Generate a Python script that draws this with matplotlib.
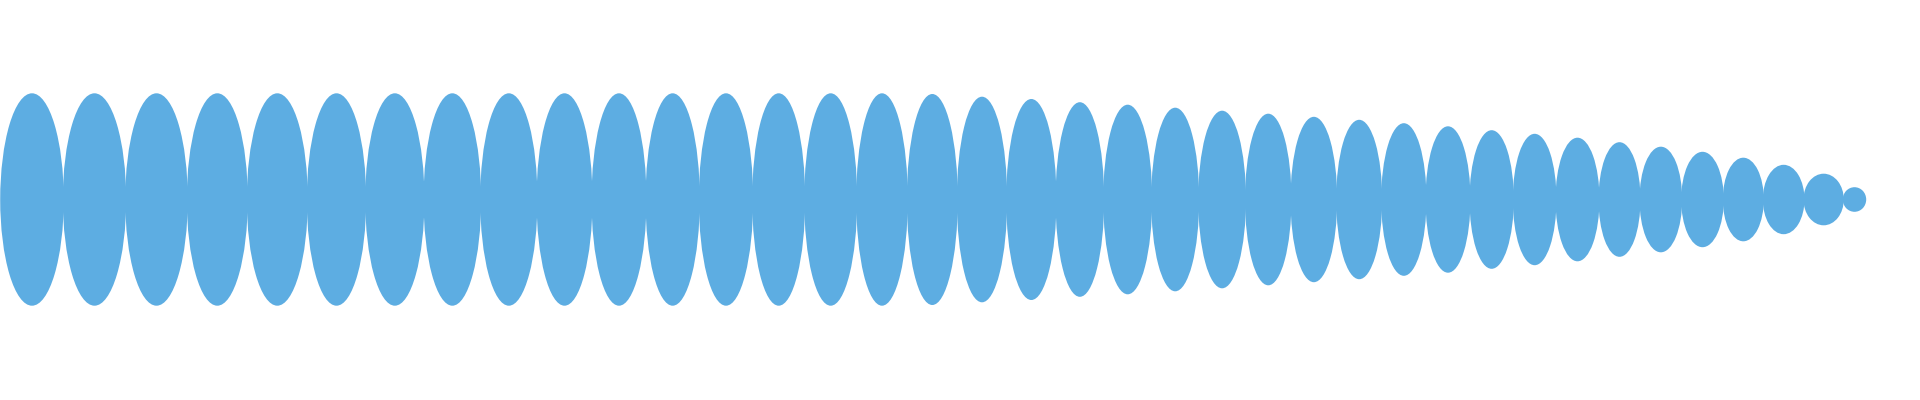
import matplotlib
matplotlib.use("Agg")
import matplotlib.pyplot as plt
from matplotlib.patches import Ellipse
import numpy as np

# Data: width of each lobe (x units) and its half-height (y units)
lobe_widths = [62.6, 62.4, 61.6, 60.0, 60.0, 58.4, 58.3, 56.7, 56.3, 55.0,
               54.0, 53.3, 53.4, 52.0, 52.0, 50.6, 50.0, 49.4, 49.3, 47.7,
               48.0, 47.0, 46.8, 45.5, 45.7, 45.0, 44.3, 44.0, 43.3, 42.7,
               43.0, 41.0, 41.7, 41.6, 40.0, 40.7, 39.3, 22.4]
lobe_half_heights = [106.2, 106.2, 106.2, 106.2, 106.2, 106.2, 106.2, 106.2, 106.2, 106.2,
                     106.2, 106.2, 106.2, 106.2, 106.2, 106.2, 105.5, 102.8, 100.5, 97.3,
                     94.8, 91.8, 88.8, 85.8, 82.7, 79.7, 76.3, 73.2, 69.3, 65.7,
                     61.8, 57.3, 52.8, 47.7, 41.8, 34.7, 25.8, 12.3]

COLOR = "#5DADE2"
X_START = 0.7
Y_CENTER = 199.5
OVERLAP = 1.0

fig = plt.figure(figsize=(19.2, 4.0), dpi=100)
ax = fig.add_axes([0, 0, 1, 1])
ax.set_xlim(0, 1920)
ax.set_ylim(400, 0)
ax.axis("off")

widths = np.array(lobe_widths)
halfs = np.array(lobe_half_heights)
lefts = X_START + np.concatenate([[0], np.cumsum(widths)[:-1]])
centers = lefts + widths / 2

for cx, w, h in zip(centers, widths, halfs):
    ax.add_patch(Ellipse((cx, Y_CENTER), w + OVERLAP, 2 * h,
                         facecolor=COLOR, edgecolor="none", linewidth=0))

fig.savefig("out.png", dpi=100, facecolor="white")
